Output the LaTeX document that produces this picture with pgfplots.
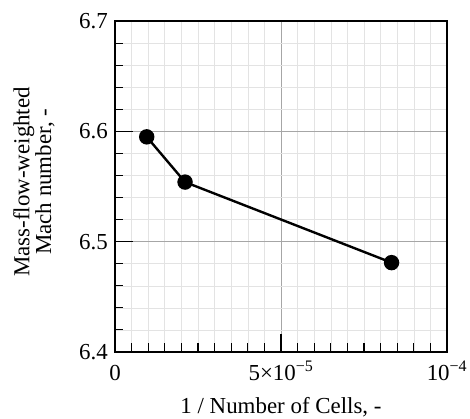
\documentclass[border=0pt]{standalone}
\usepackage{fontspec}
\setmainfont{Liberation Serif}
\usepackage{pgfplots}
\pgfplotsset{compat=1.18}
\begin{document}
\fontsize{23}{19}\selectfont
\begin{tikzpicture}
\begin{axis}[
  scale only axis,
  width=332bp, height=331bp,
  xmin=0, xmax=1e-4, ymin=6.4, ymax=6.7,
  xtick={0,5e-5,1e-4},
  xticklabels={0, 5×10\textsuperscript{−5}, 10\textsuperscript{−4}},
  scaled x ticks=false,
  ytick={6.4,6.5,6.6,6.7},
  yticklabel style={/pgf/number format/fixed,/pgf/number format/precision=1,/pgf/number format/fixed zerofill, anchor=east, inner sep=0pt, xshift=-7bp},
  /pgf/number format/assume math mode=true,
  minor x tick num=9, minor y tick num=4,
  tick pos=left, tick align=inside,
  major tick length=18bp, minor tick length=8.5bp,
  every tick/.style={black, line width=1.1pt},
  grid=both,
  major grid style={gray!70, line width=0.7pt},
  minor grid style={gray!22, line width=0.6pt},
  axis line style={black, line width=1.6pt},
  xlabel={1 / Number of Cells, -},
  ylabel={Mass-flow-weighted\\Mach number, -},
  xlabel style={at={(rel axis cs:0.5,0)}, anchor=base, yshift=-61bp, inner sep=0pt},
  ylabel style={align=center, at={(rel axis cs:0,0.514)}, anchor=center, yshift=81bp, inner sep=0pt},
  label style={font=\fontsize{23}{19}\selectfont},
  tick label style={font=\fontsize{23}{19}\selectfont},
  xticklabel style={anchor=base, yshift=-28bp, inner sep=0pt},
  clip=false,
]
\addplot[black, line width=2.4pt, mark=*, mark size=6.5bp, mark options={fill=black}]
  coordinates {(0.955e-5,6.595) (2.11e-5,6.554) (8.33e-5,6.481)};
\coordinate (sw) at (rel axis cs:0,0);
\coordinate (ne) at (rel axis cs:1,1);
\end{axis}
\pgfresetboundingbox
\path[use as bounding box] ([xshift=-115bp,yshift=-67bp]sw) rectangle ([xshift=23bp,yshift=21bp]ne);
\end{tikzpicture}
\end{document}
